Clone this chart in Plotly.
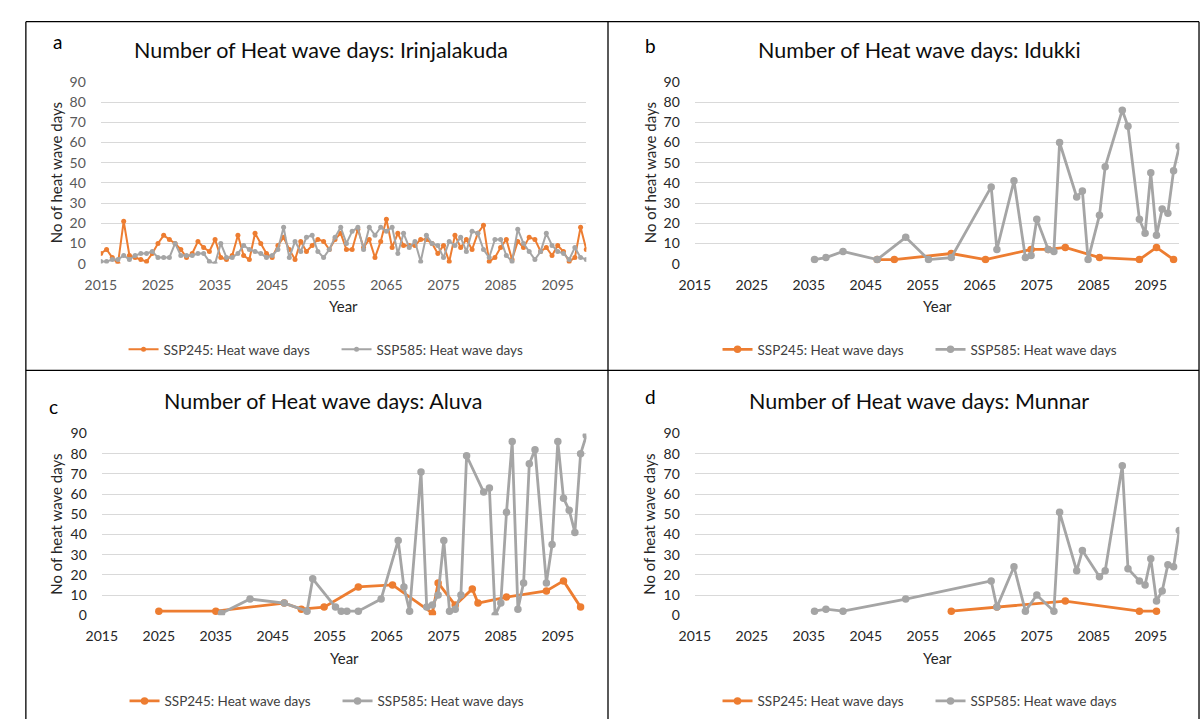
import plotly.graph_objects as go

ORANGE = "#ED7D31"
GRAY = "#A5A5A5"
FONT = "Lato"

# ---- a: Irinjalakuda (annual series) ----
years_a = list(range(2015, 2101))
ssp245_a = [5, 7, 3, 0, 21, 4, 3, 2, 1, 5, 10, 14, 12, 10, 7, 3, 5, 11, 8, 6,
            12, 3, 2, 4, 14, 4, 2, 15, 10, 5, 3, 9, 13, 7, 2, 11, 6, 9, 12, 11,
            7, 12, 15, 7, 7, 17, 8, 12, 3, 11, 22, 8, 15, 9, 9, 9, 12, 12, 10, 5,
            9, 1, 14, 8, 12, 7, 15, 19, 1, 3, 8, 12, 2, 11, 8, 13, 12, 6, 8, 4,
            9, 6, 1, 3, 18, 7]
ssp585_a = [1, 1, 2, 2, 4, 2, 4, 5, 5, 6, 3, 3, 3, 10, 4, 4, 4, 5, 5, 1,
            0, 10, 3, 3, 5, 9, 7, 6, 5, 3, 4, 7, 18, 3, 11, 6, 13, 14, 6, 3,
            7, 13, 18, 10, 16, 18, 7, 18, 14, 18, 16, 18, 5, 15, 8, 11, 1, 14, 10, 9,
            3, 11, 9, 13, 6, 16, 15, 7, 3, 12, 12, 4, 1, 17, 10, 6, 2, 6, 15, 9,
            6, 5, 2, 8, 3, 2]

# ---- b: Idukki ----
years_b_245 = [2047, 2050, 2060, 2066, 2074, 2077, 2080, 2086, 2093, 2096, 2099]
ssp245_b = [2, 2, 5, 2, 7, 7, 8, 3, 2, 8, 2]
years_b_585 = [2036, 2038, 2041, 2047, 2052, 2056, 2060, 2067, 2068, 2071, 2073,
               2074, 2075, 2077, 2078, 2079, 2082, 2083, 2084, 2086, 2087, 2090,
               2091, 2093, 2094, 2095, 2096, 2097, 2098, 2099, 2100]
ssp585_b = [2, 3, 6, 2, 13, 2, 3, 38, 7, 41, 3,
            4, 22, 7, 6, 60, 33, 36, 2, 24, 48, 76,
            68, 22, 15, 45, 14, 27, 25, 46, 58]

# ---- c: Aluva ----
years_c_245 = [2025, 2035, 2047, 2050, 2054, 2060, 2066, 2073, 2074, 2077, 2080,
               2081, 2086, 2093, 2096, 2099]
ssp245_c = [2, 2, 6, 3, 4, 14, 15, 1, 16, 5, 13, 6, 9, 12, 17, 4]
years_c_585 = [2036, 2041, 2047, 2051, 2052, 2056, 2057, 2058, 2060, 2064, 2067,
               2068, 2069, 2071, 2072, 2073, 2074, 2075, 2076, 2077, 2078, 2079,
               2082, 2083, 2084, 2085, 2086, 2087, 2088, 2089, 2090, 2091, 2093,
               2094, 2095, 2096, 2097, 2098, 2099, 2100]
ssp585_c = [1, 8, 6, 2, 18, 4, 2, 2, 2, 8, 37,
            14, 2, 71, 4, 5, 10, 37, 2, 3, 10, 79,
            61, 63, 0, 6, 51, 86, 3, 16, 75, 82, 16,
            35, 86, 58, 52, 41, 80, 89]

# ---- d: Munnar ----
years_d_245 = [2060, 2068, 2080, 2093, 2096]
ssp245_d = [2, 4, 7, 2, 2]
years_d_585 = [2036, 2038, 2041, 2052, 2067, 2068, 2071, 2073, 2075, 2078, 2079,
               2082, 2083, 2086, 2087, 2090, 2091, 2093, 2094, 2095, 2096, 2097,
               2098, 2099, 2100]
ssp585_d = [2, 3, 2, 8, 17, 4, 24, 2, 10, 2, 51,
            22, 32, 19, 22, 74, 23, 17, 15, 28, 7, 12,
            25, 24, 42]

x_ticks = list(range(2015, 2100, 10))
y_ticks = list(range(0, 91, 10))

W, H = 1200.0, 727.0

# pixel boxes of each panel's plotting area (left, right) / (top, bottom)
panels = [
    dict(key="", letter="a", title="Number of Heat wave days: Irinjalakuda",
         s245=(years_a, ssp245_a), s585=(years_a, ssp585_a),
         xdom=[86, 578], ydom=[74.7, 260.7], title_x=118, letter_xy=(42, 33),
         small=True),
    dict(key="2", letter="b", title="Number of Heat wave days: Idukki",
         s245=(years_b_245, ssp245_b), s585=(years_b_585, ssp585_b),
         xdom=[688, 1179], ydom=[74.7, 260.7], title_x=750, letter_xy=(643, 37),
         small=False),
    dict(key="3", letter="c", title="Number of Heat wave days: Aluva",
         s245=(years_c_245, ssp245_c), s585=(years_c_585, ssp585_c),
         xdom=[87, 578], ydom=[434.7, 620.7], title_x=148, letter_xy=(38, 407),
         small=False),
    dict(key="4", letter="d", title="Number of Heat wave days: Munnar",
         s245=(years_d_245, ssp245_d), s585=(years_d_585, ssp585_d),
         xdom=[688, 1179], ydom=[434.7, 620.7], title_x=741, letter_xy=(643, 397),
         small=False),
]


def px_x(v):
    return v / W


def px_y(v):
    return 1 - v / H


fig = go.Figure()
layout = dict(
    width=int(W), height=int(H),
    margin=dict(l=0, r=0, t=0, b=0),
    paper_bgcolor="white", plot_bgcolor="white",
    font=dict(family=FONT, color="#262626"),
    annotations=[], shapes=[],
)

for p in panels:
    k = p["key"]
    lw = 2 if p["small"] else 2.8
    ms = 5 if p["small"] else 7.5
    tick_col = "#595959" if p["small"] else "#262626"
    legend_name = "legend" + k
    for name, (xs, ys), col in (("SSP245: Heat wave days", p["s245"], ORANGE),
                                ("SSP585: Heat wave days", p["s585"], GRAY)):
        fig.add_trace(go.Scatter(
            x=xs, y=ys, mode="lines+markers", name=name,
            line=dict(color=col, width=lw),
            marker=dict(color=col, size=ms, symbol="circle"),
            xaxis="x" + k, yaxis="y" + k, legend=legend_name,
        ))
    xl, xr = p["xdom"]
    yt, yb = p["ydom"]
    layout["xaxis" + k] = dict(
        domain=[px_x(xl), px_x(xr)], anchor="y" + k, range=[2015, 2100],
        tickvals=x_ticks, showgrid=False, zeroline=False, showline=False,
        ticks="", ticklabelstandoff=11,
        tickfont=dict(family=FONT, size=14, color=tick_col),
    )
    layout["yaxis" + k] = dict(
        domain=[px_y(yb), px_y(yt)], anchor="x" + k, range=[0, 90],
        tickvals=y_ticks, showgrid=True, gridcolor="#D9D9D9", gridwidth=1,
        zeroline=False, showline=False, ticks="", ticklabelstandoff=14,
        tickfont=dict(family=FONT, size=14, color=tick_col),
    )
    # chart title
    layout["annotations"].append(dict(
        text=p["title"], xref="paper", yref="paper",
        x=px_x(p["title_x"]), y=px_y(yt - 33), xanchor="left", yanchor="middle",
        showarrow=False, font=dict(family=FONT, size=21.5, color="#0d0d0d"),
    ))
    # panel letter
    lx, ly = p["letter_xy"]
    layout["annotations"].append(dict(
        text=p["letter"], xref="paper", yref="paper",
        x=px_x(lx), y=px_y(ly), xanchor="center", yanchor="middle",
        showarrow=False, font=dict(family=FONT, size=19, color="#000000"),
    ))
    # axis titles
    layout["annotations"].append(dict(
        text="Year", xref="paper", yref="paper",
        x=px_x((xl + xr) / 2), y=px_y(yb + 43.5), xanchor="center", yanchor="middle",
        showarrow=False, font=dict(family=FONT, size=15, color="#262626"),
    ))
    layout["annotations"].append(dict(
        text="No of heat wave days", xref="paper", yref="paper", textangle=-90,
        x=px_x(xl - 46), y=px_y((yt + yb) / 2), xanchor="center", yanchor="middle",
        showarrow=False, font=dict(family=FONT, size=15, color="#262626"),
    ))
    # legend under each panel
    layout[legend_name] = dict(
        orientation="h", xref="paper", yref="paper",
        x=px_x(xl + 23), y=px_y(yb + 88), xanchor="left", yanchor="middle",
        font=dict(family=FONT, size=13.5, color="#404040"),
        bgcolor="rgba(0,0,0,0)", itemwidth=30, entrywidth=168,
    )

# panel frames
black = dict(color="#000000", width=1.3)
for (xa, ya, xb, yb_) in [(10, 13, 1199, 13), (10, 13, 10, 727), (1199, 13, 1199, 727),
                          (600, 13, 600, 727), (10, 370, 1199, 370)]:
    layout["shapes"].append(dict(
        type="line", xref="paper", yref="paper",
        x0=px_x(xa), x1=px_x(xb), y0=px_y(ya), y1=px_y(yb_), line=black,
    ))

fig.update_layout(**layout)
fig.write_html("out.html")
